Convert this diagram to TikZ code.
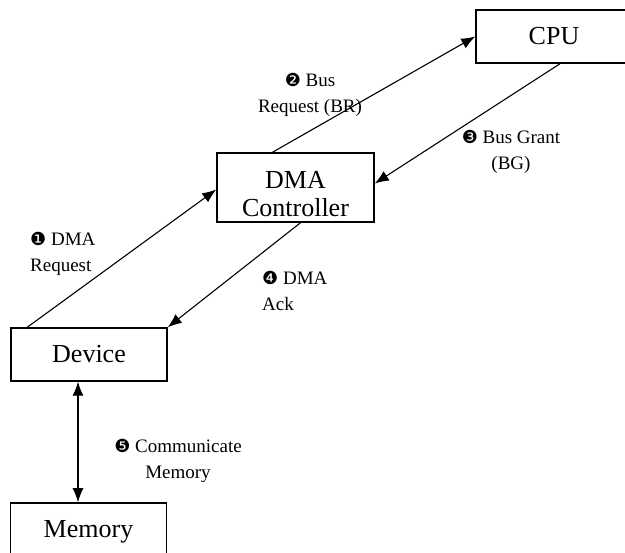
\documentclass[tikz,border=0pt]{standalone}
\usepackage{fontspec}
\setmainfont{Liberation Serif}
\newfontfamily\dingfont{DejaVu Sans}
\usetikzlibrary{arrows.meta}

%circled step number
\newcommand{\stepnum}[1]{{\dingfont\fontsize{18}{18}\selectfont #1}}

\begin{document}
\begin{tikzpicture}[x=1pt,y=-1pt,
  box/.style={draw, line width=1.5pt, minimum width=156pt, minimum height=53pt,
    inner sep=0pt, align=center, font=\fontsize{26}{28}\selectfont},
  lbl/.style={inner sep=0pt, font=\fontsize{19}{26}\selectfont},
  link/.style={line width=1.1pt, -{Latex[length=14pt,width=11pt]}}]

\clip (0,0) rectangle (625,553);

\node[box] (cpu) at (554,36.5) {CPU};
\node[box, minimum width=157pt, minimum height=69pt] (dma) at (295.5,187.5) {};
\node[align=center, font=\fontsize{26}{28}\selectfont] (dmatext) at ([yshift=-7pt]dma.center) {DMA\\Controller};
\node[box] (dev) at (89,354.5) {Device};
\node[box, minimum height=58pt] (mem) at (88.5,532) {Memory};

\draw[link] ([xshift=17pt]dev.north west) -- ([yshift=-2pt]dma.west);
\draw[link] ([xshift=-23pt]dma.north) -- (cpu.west);
\draw[link] ([xshift=6pt]cpu.south) -- ([yshift=4pt]dma.east);
\draw[link] ([xshift=5pt]dma.south) -- (dev.north east);
\draw[link, {Latex[length=14pt,width=11pt]}-{Latex[length=14pt,width=11pt]}] ([xshift=-11pt]dev.south) -- ([xshift=-10.5pt]mem.north);

\node[lbl, anchor=west, align=left] (req) at (30,254) {\stepnum{❶} DMA\\Request};
\node[lbl, align=center] (br) at (310,95) {\stepnum{❷} Bus\\Request (BR)};
\node[lbl, align=center] (bg) at (511,152) {\stepnum{❸} Bus Grant\\(BG)};
\node[lbl, anchor=west, align=left] (ack) at (262,291) {\stepnum{❹} DMA\\Ack};
\node[lbl, align=center] (comm) at (178,461) {\stepnum{❺} Communicate\\Memory};

\end{tikzpicture}
\end{document}
